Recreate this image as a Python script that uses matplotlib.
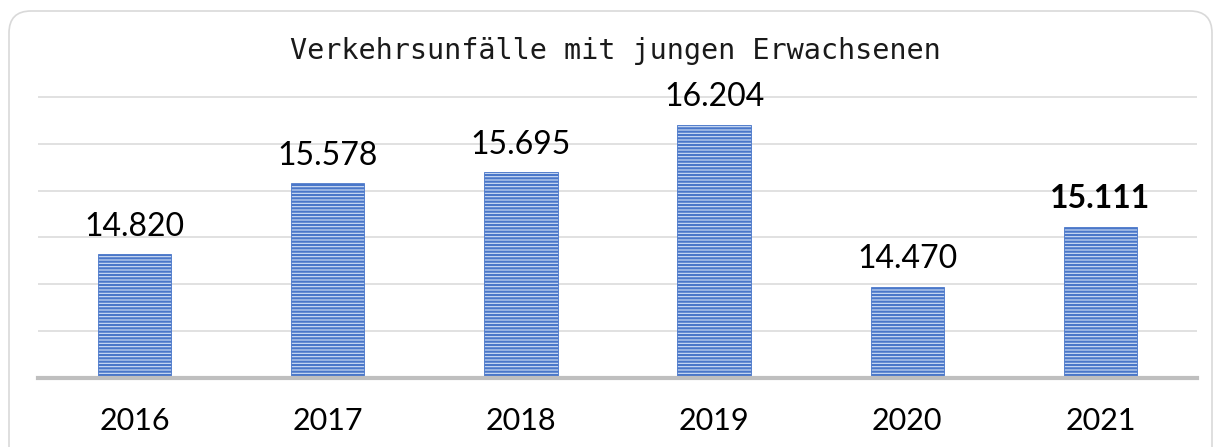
import matplotlib
matplotlib.use('Agg')
import matplotlib.pyplot as plt
from matplotlib.patches import FancyBboxPatch
from matplotlib.transforms import IdentityTransform

#----------------------------------------------------------------------------- data
years = ['2016', '2017', '2018', '2019', '2020', '2021']
values = [14820, 15578, 15695, 16204, 14470, 15111]
labels = ['14.820', '15.578', '15.695', '16.204', '14.470', '15.111']
bold_label = [False, False, False, False, False, True]
title = 'Verkehrsunfälle mit jungen Erwachsenen'

plt.rcParams['hatch.linewidth'] = 1.6
font_main = ['Lato', 'DejaVu Sans']

#----------------------------------------------------------------------------- figure
fig = plt.figure(figsize=(12.14, 4.47), dpi=100)

# rounded outer frame (pixel coords)
frame = FancyBboxPatch((9, -30), 1203, 466, boxstyle='round,pad=0,rounding_size=22',
                       transform=IdentityTransform(), facecolor='none',
                       edgecolor='#d9d9d9', linewidth=1.2, zorder=0)
fig.patches.append(frame)

ax = fig.add_axes([38/1214, 69/447, (1197-38)/1214, (378-95)/447])
ax.patch.set_alpha(0)

x = list(range(len(years)))
ax.bar(x, values, width=0.38, bottom=0, facecolor='#d3e0f5', edgecolor='#4a77c9',
       hatch='-----', linewidth=0.6, zorder=3)

ax.set_xlim(-0.5, 5.5)
ax.set_ylim(13500, 16520)

for yv in [14000, 14500, 15000, 15500, 16000, 16500]:
    ax.axhline(yv, color='#d9d9d9', linewidth=1.1, zorder=1)
ax.axhline(13500, color='#bfbfbf', linewidth=3, zorder=4, clip_on=False)

for s in ax.spines.values():
    s.set_visible(False)
ax.set_yticks([])
ax.set_xticks(x)
ax.set_xticklabels(years, fontsize=22, family=font_main)
ax.tick_params(axis='x', length=0, pad=21)

for xi, v, lab, b in zip(x, values, labels, bold_label):
    ax.annotate(lab, (xi, v), xytext=(0, 13.5), textcoords='offset points',
                ha='center', va='baseline', fontsize=23, family=font_main,
                fontweight='bold' if b else 'normal', color='black', zorder=5)

fig.text(615/1214, 1 - 51/447, title, ha='center', va='center', fontsize=20.5,
         family=['DejaVu Sans Mono'], color='#1a1a1a')

fig.savefig('out.png', dpi=100)
